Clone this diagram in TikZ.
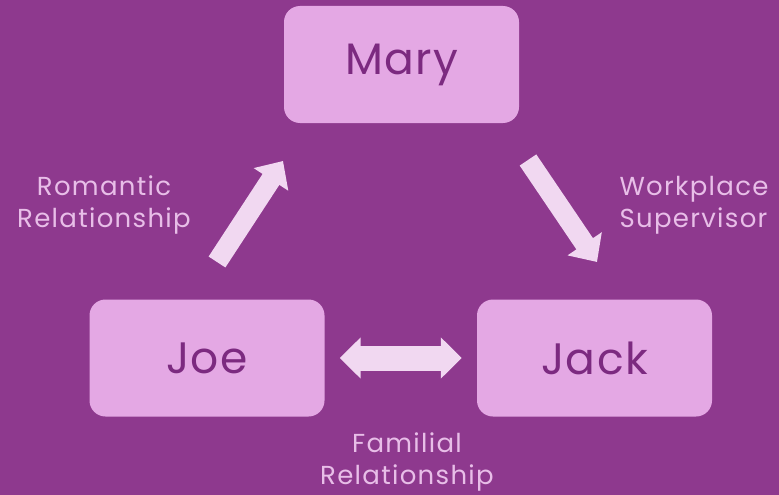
\documentclass[tikz,border=0pt]{standalone}
\usepackage{fontspec}
\setmainfont{Poppins}
\newfontfamily\namefont{Poppins}[LetterSpace = 3]
\newfontfamily\labelfont{Poppins}[LetterSpace = 5]
\usepackage{tikz}
\usetikzlibrary{arrows.meta}

\definecolor{bgpurple}{RGB}{142,57,142}
\definecolor{boxpink}{RGB}{228,168,228}
\definecolor{arrowpink}{RGB}{241,216,241}
\definecolor{namepurple}{RGB}{124,42,128}
\definecolor{labelpink}{RGB}{232,190,232}

\tikzset{
	person/.style = {fill = boxpink, rounded corners = 16pt, minimum width = 235pt, minimum height = 117pt, text = namepurple, font = \namefont\fontsize{44}{48}\selectfont},
	relation/.style = {text = labelpink, font = \labelfont\fontsize{26}{32}\selectfont},
	bigarrow/.style = {draw = arrowpink, line width = 20pt, -{Triangle[width = 40pt, length = 22pt]}},
	bothways/.style = {draw = arrowpink, line width = 25pt, {Triangle[width = 40pt, length = 21pt]}-{Triangle[width = 40pt, length = 21pt]}}
}

\begin{document}
\begin{tikzpicture} [x = 1pt, y = -1pt]
	\fill[bgpurple] (0,0) rectangle (779,495);
	\useasboundingbox (0,0) rectangle (779,495);
	\node [person] (mary) at (401.5,64.5) {Mary};
	\node [person] (joe) at (207,358) {Joe};
	\node [person] (jack) at (594.5,358) {Jack};
	\coordinate (romtail) at (217,262);
	\coordinate (romtip) at (283,161);
	\coordinate (worktail) at (528,160);
	\coordinate (worktip) at (597,262);
	\draw [bigarrow] (romtail) -- (romtip);
	\draw [bigarrow] (worktail) -- (worktip);
	\draw [bothways] ([xshift = 15pt] joe.east) -- ([xshift = -15pt] jack.west);
	\node [relation, align = center] (romantic) at (104,205) {Romantic\\Relationship};
	\node [relation, align = left, anchor = west] (workplace) at (616,205) {Workplace\\Supervisor};
	\node [relation, align = center] (familial) at (407,462) {Familial\\Relationship};
\end{tikzpicture}
\end{document}
